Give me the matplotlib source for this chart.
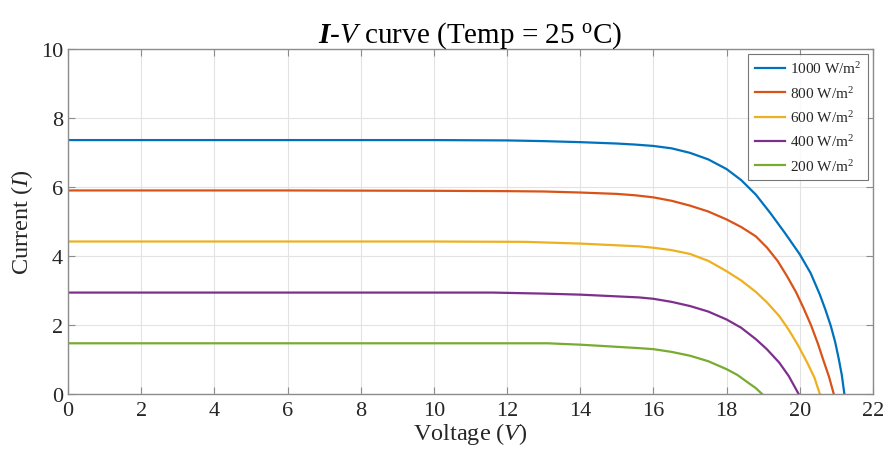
import matplotlib
matplotlib.use("Agg")
import matplotlib.pyplot as plt

# I-V characteristic of the PV module at 25 degC for five irradiance levels
labels = ["1000 W/m$^2$", "800 W/m$^2$", "600 W/m$^2$", "400 W/m$^2$", "200 W/m$^2$"]
colors = ["#0072BD", "#D95319", "#EDB120", "#7E2F8E", "#77AC30"]

v_1000 = [0, 6, 10, 12, 13, 14, 15, 15.5, 16, 16.5, 17, 17.5, 18, 18.4, 18.8, 19.2, 19.6, 20.0, 20.3, 20.55, 20.7, 20.85, 20.97, 21.07, 21.15, 21.22]
i_1000 = [7.36, 7.36, 7.36, 7.35, 7.33, 7.30, 7.26, 7.23, 7.19, 7.12, 6.99, 6.80, 6.52, 6.20, 5.78, 5.24, 4.66, 4.05, 3.50, 2.88, 2.45, 1.97, 1.50, 1.00, 0.55, 0.0]

v_800 = [0, 6, 10, 12, 13, 14, 15, 15.5, 16, 16.5, 17, 17.5, 18, 18.4, 18.8, 19.1, 19.4, 19.65, 19.9, 20.1, 20.31, 20.5, 20.63, 20.8, 20.93]
i_800 = [5.90, 5.90, 5.89, 5.88, 5.87, 5.84, 5.80, 5.76, 5.70, 5.60, 5.46, 5.29, 5.06, 4.84, 4.57, 4.25, 3.85, 3.42, 2.95, 2.50, 1.99, 1.45, 1.03, 0.50, 0.0]

v_600 = [0, 6, 10, 12.5, 14, 15, 15.6, 16, 16.5, 17, 17.5, 18, 18.4, 18.8, 19.1, 19.44, 19.7, 19.95, 20.2, 20.4, 20.55]
i_600 = [4.42, 4.42, 4.42, 4.41, 4.36, 4.31, 4.28, 4.24, 4.17, 4.06, 3.86, 3.56, 3.29, 2.96, 2.66, 2.26, 1.86, 1.42, 0.92, 0.48, 0.0]

v_400 = [0, 6, 10, 11.6, 13, 14, 15, 15.6, 16, 16.5, 17, 17.5, 18, 18.4, 18.8, 19.1, 19.44, 19.7, 19.97]
i_400 = [2.94, 2.94, 2.94, 2.94, 2.91, 2.88, 2.83, 2.80, 2.76, 2.67, 2.55, 2.39, 2.16, 1.92, 1.59, 1.30, 0.91, 0.52, 0.0]

v_200 = [0, 6, 10, 13.1, 14, 14.8, 15.6, 16, 16.5, 17, 17.5, 18, 18.3, 18.6, 18.8, 18.97]
i_200 = [1.47, 1.47, 1.47, 1.47, 1.43, 1.38, 1.33, 1.30, 1.22, 1.11, 0.95, 0.72, 0.55, 0.32, 0.17, 0.0]

voltages = [v_1000, v_800, v_600, v_400, v_200]
currents = [i_1000, i_800, i_600, i_400, i_200]

plt.rcParams["font.family"] = ["Liberation Serif", "DejaVu Serif"]
plt.rcParams["mathtext.fontset"] = "custom"
plt.rcParams["mathtext.rm"] = "Liberation Serif"
plt.rcParams["mathtext.it"] = "Liberation Serif:italic"
plt.rcParams["mathtext.bf"] = "Liberation Serif:bold"
plt.rcParams["mathtext.bfit"] = "Liberation Serif:italic:bold"

text_color = "#262626"
frame_color = "#8c8c8c"

fig = plt.figure(figsize=(8.88, 4.6), dpi=100)
ax = fig.add_axes([0.0766, 0.1413, 0.9064, 0.75])

for v, i, c, lab in zip(voltages, currents, colors, labels):
    ax.plot(v, i, color=c, lw=1.6, label=lab, solid_joinstyle="round")

ax.set_xlim(0, 22)
ax.set_ylim(0, 10)
ax.set_xticks(range(0, 23, 2))
ax.set_yticks(range(0, 11, 2))
ax.grid(True, color="#e3e3e3", lw=0.8)
ax.set_axisbelow(True)

for s in ax.spines.values():
    s.set_color(frame_color)
    s.set_linewidth(1.0)
ax.tick_params(direction="in", length=5, width=0.8, color=frame_color,
               labelcolor=text_color, labelsize=16, top=True, right=True)
ax.tick_params(axis="x", pad=5)

ax.set_xlabel("Voltage ($V$)", fontsize=17.5, color=text_color, labelpad=0)
ax.set_ylabel("Current ($I$)", fontsize=17.5, color=text_color, labelpad=4)
ax.set_title(r"$\mathbfit{I}$-$V$ curve (Temp = 25 $^{\rm o}$C)",
             fontsize=21, color="black", pad=5)

leg = ax.legend(loc="upper right", fontsize=11, frameon=True, fancybox=False,
                handlelength=2.0, handletextpad=0.3, borderpad=0.45,
                labelspacing=0.55, borderaxespad=0.3)
leg.get_frame().set_edgecolor("#555555")
leg.get_frame().set_linewidth(0.8)
for t in leg.get_texts():
    t.set_color(text_color)

fig.savefig("out.png", dpi=100)
